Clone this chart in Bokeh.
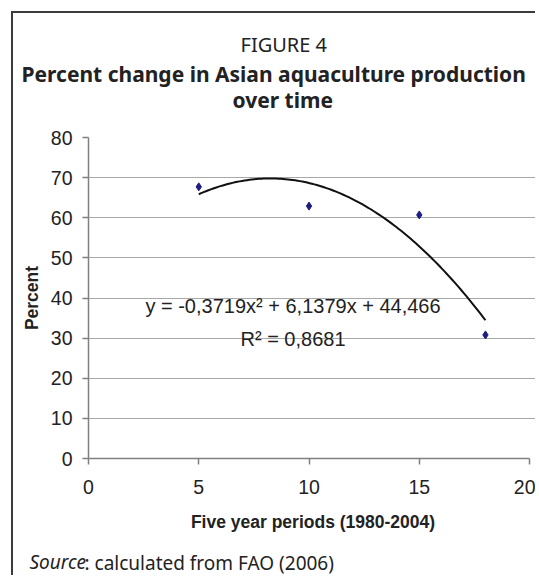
import numpy as np
from bokeh.plotting import figure
from bokeh.models import Range1d, Label, FixedTicker, Title
from bokeh.embed import file_html
from bokeh.resources import INLINE

# ---- data ----
periods = [5, 10, 15, 18]
percent_change = [67.7, 62.9, 60.7, 30.8]
trend_coef = [-0.3719, 6.1379, 44.466]   # polynomial trendline shown on chart
trend_span = [5, 18]
x_ticks = [0, 5, 10, 15, 20]
y_ticks = [0, 10, 20, 30, 40, 50, 60, 70, 80]

title_kicker = "FIGURE 4"
title_line1 = "Percent change in Asian aquaculture production"
title_line2 = "over time"
eq_text = "y = -0,3719x\u00b2 + 6,1379x + 44,466"
r2_text = "R\u00b2 = 0,8681"
x_label = "Five year periods (1980-2004)"
y_label = "Percent"
source_italic = "Source"
source_rest = ": calculated from FAO (2006)"

ARIAL = "Liberation Sans"
SANS = "Noto Sans"
TXT = "#222222"
AX = "#808080"

p = figure(width=524, height=564, output_backend="svg", toolbar_location=None,
           x_range=Range1d(0, 20.36), y_range=Range1d(0, 80),
           min_border_left=75, min_border_right=0,
           min_border_top=124, min_border_bottom=119)
p.styles = {"border-left": "2px solid #3c3c3c", "border-top": "2px solid #3c3c3c",
            "margin-left": "11px", "margin-top": "11px"}
p.outline_line_color = None
p.background_fill_color = "white"
p.border_fill_color = "white"

p.xaxis.ticker = FixedTicker(ticks=x_ticks)
p.yaxis.ticker = FixedTicker(ticks=y_ticks)
p.xaxis.bounds = (0, 20)
p.xgrid.visible = False
p.ygrid.ticker = FixedTicker(ticks=y_ticks)
p.ygrid.grid_line_color = "#a8a8a8"
p.ygrid.grid_line_width = 1

for ax in (p.xaxis[0], p.yaxis[0]):
    ax.axis_line_color = AX
    ax.axis_line_width = 1.5
    ax.major_tick_line_color = AX
    ax.major_tick_line_width = 1.5
    ax.major_tick_in = 0
    ax.major_tick_out = 6
    ax.minor_tick_line_color = None
    ax.major_label_text_font = ARIAL
    ax.major_label_text_font_size = "19.5px"
    ax.major_label_text_color = TXT
    ax.axis_label_text_font = ARIAL
    ax.axis_label_text_font_size = "17.5px"
    ax.axis_label_text_font_style = "bold"
    ax.axis_label_text_color = TXT

p.xaxis.axis_label = x_label
p.yaxis.axis_label = y_label
p.xaxis.major_label_standoff = 15
p.yaxis.major_label_standoff = 10
p.xaxis.axis_label_standoff = 15
p.yaxis.axis_label_standoff = 6

# trendline from the polynomial coefficients printed on the chart
tx = np.linspace(trend_span[0], trend_span[1], 120)
ty = np.polyval(trend_coef, tx)
p.line(tx, ty, line_color="#111111", line_width=2)

p.scatter(periods, percent_change, marker="diamond", size=8,
          fill_color="#1c1c84", line_color="#1c1c84")

FL, FB = 88, 458  # frame left / bottom in page pixels


def add_label(text, xp, yp, font, size, style="normal", align="center"):
    p.add_layout(Label(x=xp - FL, y=FB - yp, x_units="screen", y_units="screen",
                       text=text, text_align=align, text_baseline="alphabetic",
                       text_font=font, text_font_size=size,
                       text_font_style=style, text_color=TXT))


add_label(eq_text, 292.5, 305, ARIAL, "20px")
add_label(r2_text, 292.5, 338, ARIAL, "20px")


def spacer(standoff):
    return Title(text=" ", text_font_size="1px", standoff=standoff)


# ---- titles above the frame (first added sits nearest the frame) ----
p.add_layout(spacer(21), "above")
p.add_layout(Title(text=title_line2, align="left", offset=144, standoff=0,
                   text_font=SANS, text_font_size="21px", text_font_style="bold",
                   text_color=TXT), "above")
p.add_layout(Title(text=title_line1, align="left", offset=-67, standoff=-9,
                   text_font=SANS, text_font_size="21px", text_font_style="bold",
                   text_color=TXT), "above")
p.add_layout(Title(text=title_kicker, align="left", offset=152, standoff=10,
                   text_font=SANS, text_font_size="20px", text_font_style="normal",
                   text_color=TXT), "above")

# ---- source line below the axis (two zero-height panels on one line) ----
p.add_layout(spacer(23), "below")
p.add_layout(Title(text=source_italic, align="left", offset=-59, standoff=-27,
                   text_font=SANS, text_font_size="19px", text_font_style="italic",
                   text_color=TXT), "below")
p.add_layout(Title(text=source_rest, align="left", offset=-4, standoff=-27,
                   text_font=SANS, text_font_size="19px", text_font_style="normal",
                   text_color=TXT), "below")

open("out.html", "w").write(file_html(p, INLINE))
